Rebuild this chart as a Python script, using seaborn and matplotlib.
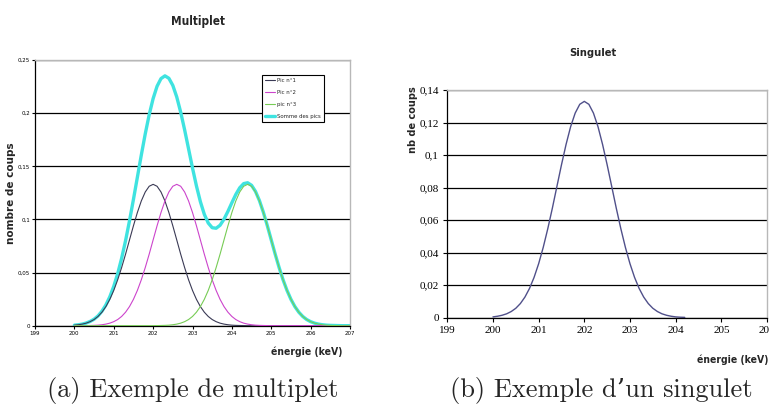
import numpy as np
import pandas as pd
import seaborn as sns
import matplotlib.pyplot as plt
from matplotlib.ticker import FuncFormatter

# energies (keV), 200.0 -> 207.0 by 0.1
energie = [round(200 + 0.1 * i, 1) for i in range(71)]

# counts for each peak
pic1 = [0.0005, 0.0009, 0.0015, 0.0024, 0.0038, 0.0058, 0.0087, 0.0127, 0.0180, 0.0248,
        0.0332, 0.0432, 0.0547, 0.0673, 0.0807, 0.0940, 0.1065, 0.1174, 0.1258, 0.1312,
        0.1330, 0.1312, 0.1258, 0.1174, 0.1065, 0.0940, 0.0807, 0.0673, 0.0547, 0.0432,
        0.0332, 0.0248, 0.0180, 0.0127, 0.0087, 0.0058, 0.0038, 0.0024, 0.0015, 0.0009,
        0.0005, 0.0003, 0.0002, 0.0001, 0, 0, 0, 0, 0, 0,
        0, 0, 0, 0, 0, 0, 0, 0, 0, 0,
        0, 0, 0, 0, 0, 0, 0, 0, 0, 0, 0]
pic2 = [0, 0, 0, 0.0001, 0.0002, 0.0003, 0.0005, 0.0009, 0.0015, 0.0024,
        0.0038, 0.0058, 0.0087, 0.0127, 0.0180, 0.0248, 0.0332, 0.0432, 0.0547, 0.0673,
        0.0807, 0.0940, 0.1065, 0.1174, 0.1258, 0.1312, 0.1330, 0.1312, 0.1258, 0.1174,
        0.1065, 0.0940, 0.0807, 0.0673, 0.0547, 0.0432, 0.0332, 0.0248, 0.0180, 0.0127,
        0.0087, 0.0058, 0.0038, 0.0024, 0.0015, 0.0009, 0.0005, 0.0003, 0.0002, 0.0001,
        0, 0, 0, 0, 0, 0, 0, 0, 0, 0,
        0, 0, 0, 0, 0, 0, 0, 0, 0, 0, 0]
pic3 = [0, 0, 0, 0, 0, 0, 0, 0, 0, 0,
        0, 0, 0, 0, 0, 0, 0, 0, 0, 0,
        0, 0.0001, 0.0002, 0.0003, 0.0005, 0.0009, 0.0015, 0.0024, 0.0038, 0.0058,
        0.0087, 0.0127, 0.0180, 0.0248, 0.0332, 0.0432, 0.0547, 0.0673, 0.0807, 0.0940,
        0.1065, 0.1174, 0.1258, 0.1312, 0.1330, 0.1312, 0.1258, 0.1174, 0.1065, 0.0940,
        0.0807, 0.0673, 0.0547, 0.0432, 0.0332, 0.0248, 0.0180, 0.0127, 0.0087, 0.0058,
        0.0038, 0.0024, 0.0015, 0.0009, 0.0005, 0.0003, 0.0002, 0.0001, 0, 0, 0]
somme = [a + b + c for a, b, c in zip(pic1, pic2, pic3)]

# singlet spans 200 -> 204.2 keV
n_sing = 43
singulet = pic1[:n_sing]

noms = ["Pic n°1", "Pic n°2", "pic n°3", "Somme des pics"]
couleurs = ["#3a3a55", "#cc44cc", "#77cc55", "#3fe3e0"]
epaisseurs = [0.8, 0.8, 0.8, 2.4]

yticks_multi = [0, 0.05, 0.1, 0.15, 0.2, 0.25]
yticks_sing = [0, 0.02, 0.04, 0.06, 0.08, 0.1, 0.12, 0.14]
xticks_multi = list(range(199, 208))
xticks_sing = list(range(199, 207))

sns.set_style("white")

fig = plt.figure(figsize=(7.69, 4.05), dpi=100)
virgule = FuncFormatter(lambda v, p: f"{v:g}".replace(".", ","))
etroit = dict(fontweight="bold", family=["DejaVu Sans"], fontstretch="condensed")

def habiller(ax):
    ax.grid(axis="y", color="black", lw=0.9)
    ax.grid(axis="x", visible=False)
    ax.set_axisbelow(True)
    for s in ["top", "right"]:
        ax.spines[s].set_color("#b8b8b8")
        ax.spines[s].set_linewidth(1.0)
    for s in ["left", "bottom"]:
        ax.spines[s].set_color("black")
        ax.spines[s].set_linewidth(0.9)
    ax.yaxis.set_major_formatter(virgule)
    ax.set_xlabel("")
    ax.set_ylabel("")

# ---- Multiplet ----
ax1 = fig.add_axes([35 / 769, 1 - 325.7 / 405, 315 / 769, 265.7 / 405])
df = pd.DataFrame({"energie": energie * 4,
                   "coups": pic1 + pic2 + pic3 + somme,
                   "pic": sum([[n] * len(energie) for n in noms], [])})
for nom, c, lw in zip(noms, couleurs, epaisseurs):
    sns.lineplot(data=df[df.pic == nom], x="energie", y="coups", color=c, lw=lw,
                 ax=ax1, label=nom, zorder=3 if lw < 2 else 2)
ax1.set_xlim(199, 207)
ax1.set_ylim(0, 0.25)
ax1.set_xticks(xticks_multi)
ax1.set_yticks(yticks_multi)
habiller(ax1)
ax1.tick_params(axis="both", labelsize=4, length=2, direction="out", pad=1.5,
                colors="black", bottom=True, left=True)
leg = ax1.legend(loc="upper right", bbox_to_anchor=(0.925, 0.955), fontsize=3.9,
                 frameon=True, fancybox=False, edgecolor="black", framealpha=1,
                 handlelength=1.9, handletextpad=0.3, borderpad=0.6, labelspacing=1.3)
leg.get_frame().set_linewidth(0.8)
for h, lw in zip(leg.get_lines(), epaisseurs):
    h.set_linewidth(lw)
fig.text(198 / 769, 1 - 22 / 405, "Multiplet", ha="center", va="center",
         fontsize=8.5, **etroit)
fig.text(11 / 769, 1 - 193 / 405, "nombre de coups", rotation=90, ha="center",
         va="center", fontsize=7.5, fontweight="bold", family=["DejaVu Sans"])
fig.text(342 / 769, 1 - 352 / 405, "énergie (keV)", ha="right", va="center",
         fontsize=7.5, **etroit)

# ---- Singulet ----
ax2 = fig.add_axes([447.3 / 769, 1 - 317.7 / 405, 319.7 / 769, 227.7 / 405])
sns.lineplot(x=energie[:n_sing], y=singulet, color="#50508a", lw=1.0, ax=ax2)
ax2.set_xlim(199, 206)
ax2.set_ylim(0, 0.14)
ax2.set_xticks(xticks_sing)
ax2.set_yticks(yticks_sing)
habiller(ax2)
ax2.tick_params(axis="both", labelsize=8, length=3, direction="out", pad=3,
                colors="black", bottom=True, left=True)
for t in ax2.get_xticklabels() + ax2.get_yticklabels():
    t.set_family(["Liberation Serif", "DejaVu Serif"])
fig.text(593 / 769, 1 - 53 / 405, "Singulet", ha="center", va="center",
         fontsize=8, **etroit)
fig.text(413 / 769, 1 - 120 / 405, "nb de coups", rotation=90, ha="center",
         va="center", fontsize=7, fontweight="bold", family=["DejaVu Sans"])
fig.text(768 / 769, 1 - 360 / 405, "énergie (keV)", ha="right", va="center",
         fontsize=7.5, **etroit)

# ---- captions ----
fig.text(193 / 769, 1 - 390 / 405, "(a) Exemple de multiplet", ha="center",
         va="center", fontsize=19, family=["cmr10", "DejaVu Serif"])
fig.text(601 / 769, 1 - 390 / 405, "(b) Exemple d\u2019un singulet", ha="center",
         va="center", fontsize=19, family=["cmr10", "DejaVu Serif"])

fig.savefig("out.png", dpi=100)
